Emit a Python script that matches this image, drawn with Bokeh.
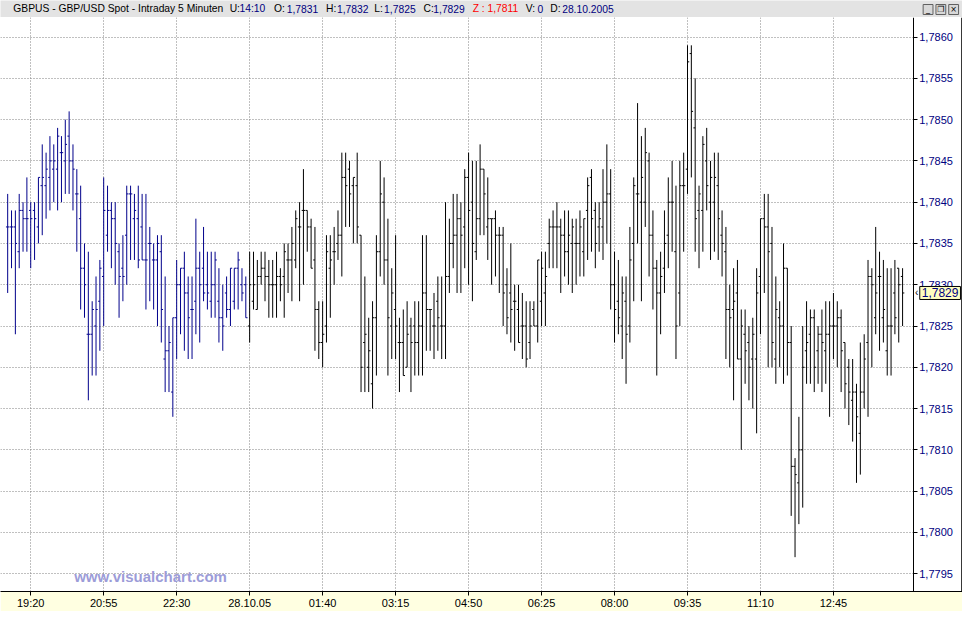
import datetime as dt
from bokeh.plotting import figure
from bokeh.models import (Range1d, FixedTicker, SingleIntervalTicker, Span,
                          CustomJSTickFormatter, Label, ColumnDataSource, BoxAnnotation)
from bokeh.layouts import column
from bokeh.embed import file_html
from bokeh.resources import INLINE
from bokeh.core.properties import value

# ---- data: GBP/USD 5-minute bars, prices in 1/10000 (17837 = 1,7837) ----
opens = [
    17837,17837,17837,17834,17839,17838,17839,17839,17837,17842,
    17842,17843,17844,17844,17846,17845,17848,17845,17841,17838,
    17832,17824,17824,17825,17828,17831,17836,17839,17838,17834,
    17832,17836,17841,17838,17838,17837,17833,17835,17833,17833,
    17834,17821,17822,17817,17826,17830,17832,17829,17827,17828,
    17832,17832,17830,17828,17830,17828,17826,17829,17827,17828,
    17832,17830,17830,17825,17828,17827,17831,17832,17831,17830,
    17830,17831,17831,17833,17833,17833,17837,17839,17839,17837,
    17833,17827,17823,17825,17832,17834,17835,17836,17843,17844,
    17842,17842,17836,17823,17820,17818,17826,17834,17840,17833,
    17825,17827,17823,17823,17820,17825,17825,17823,17825,17829,
    17827,17825,17828,17825,17825,17831,17835,17836,17838,17837,
    17843,17840,17834,17838,17844,17837,17838,17838,17836,17836,
    17830,17829,17828,17827,17825,17825,17823,17827,17825,17828,
    17829,17835,17837,17837,17837,17836,17834,17835,17835,17835,
    17834,17839,17843,17839,17837,17837,17840,17841,17830,17828,
    17825,17828,17825,17835,17841,17840,17840,17845,17836,17832,
    17829,17832,17836,17840,17834,17829,17842,17844,17858,17849,
    17839,17839,17845,17840,17840,17842,17836,17834,17827,17827,
    17829,17821,17824,17823,17821,17821,17831,17838,17837,17835,
    17821,17826,17825,17832,17823,17808,17806,17810,17822,17824,
    17826,17822,17824,17822,17824,17825,17825,17826,17823,17820,
    17816,17817,17812,17817,17823,17831,17826,17831,17826,17822,
    17825,17829,17832,17831]
highs = [
    17841,17839,17839,17841,17840,17843,17840,17840,17843,17847,
    17846,17848,17847,17849,17848,17850,17851,17847,17844,17842,
    17835,17834,17828,17831,17833,17843,17842,17840,17840,17835,
    17836,17842,17842,17841,17842,17841,17841,17837,17835,17836,
    17836,17831,17825,17826,17833,17832,17834,17831,17831,17838,
    17834,17837,17834,17834,17834,17832,17830,17831,17832,17832,
    17834,17832,17831,17834,17834,17833,17834,17834,17833,17833,
    17834,17832,17835,17835,17837,17839,17840,17844,17839,17838,
    17837,17828,17828,17836,17836,17837,17839,17846,17846,17845,
    17843,17846,17836,17831,17826,17828,17836,17845,17843,17838,
    17832,17836,17826,17827,17828,17826,17828,17828,17836,17836,
    17827,17829,17831,17831,17840,17838,17841,17841,17840,17844,
    17846,17845,17845,17847,17844,17843,17838,17839,17837,17837,
    17832,17835,17830,17830,17829,17828,17828,17828,17833,17834,
    17834,17838,17839,17840,17838,17839,17839,17838,17838,17839,
    17838,17843,17844,17840,17840,17844,17847,17844,17834,17833,
    17831,17831,17837,17843,17852,17848,17849,17846,17839,17833,
    17834,17839,17843,17845,17842,17845,17846,17859,17859,17855,
    17842,17848,17849,17845,17846,17846,17839,17837,17830,17832,
    17833,17827,17827,17825,17826,17832,17838,17841,17841,17837,
    17831,17828,17835,17832,17825,17809,17814,17825,17828,17827,
    17827,17825,17827,17828,17828,17829,17828,17827,17823,17821,
    17821,17818,17823,17824,17833,17832,17837,17834,17833,17832,
    17832,17833,17832,17832]
lows = [
    17829,17832,17824,17832,17834,17834,17832,17833,17835,17836,
    17838,17839,17840,17839,17840,17841,17841,17839,17834,17827,
    17826,17816,17819,17819,17822,17825,17834,17832,17830,17826,
    17828,17830,17833,17833,17832,17833,17827,17828,17827,17825,
    17823,17817,17817,17814,17821,17824,17822,17821,17821,17824,
    17823,17828,17827,17826,17826,17823,17822,17826,17825,17827,
    17827,17828,17826,17823,17827,17827,17830,17828,17826,17826,
    17826,17828,17826,17829,17828,17832,17828,17830,17834,17832,
    17822,17821,17820,17823,17826,17830,17833,17831,17837,17837,
    17835,17835,17817,17817,17817,17815,17819,17831,17830,17819,
    17821,17821,17817,17819,17820,17817,17819,17819,17819,17822,
    17822,17821,17822,17821,17821,17829,17832,17829,17829,17832,
    17830,17828,17833,17836,17836,17833,17830,17831,17829,17825,
    17824,17823,17822,17823,17821,17820,17821,17825,17823,17825,
    17825,17832,17832,17832,17829,17831,17830,17829,17830,17831,
    17831,17833,17834,17832,17834,17833,17835,17827,17823,17824,
    17821,17818,17823,17828,17835,17828,17837,17831,17827,17819,
    17824,17829,17832,17834,17821,17825,17834,17841,17843,17834,
    17832,17834,17839,17833,17834,17833,17831,17821,17820,17816,
    17821,17810,17818,17816,17815,17812,17824,17829,17820,17820,
    17818,17820,17818,17819,17802,17797,17801,17803,17818,17818,
    17817,17818,17817,17818,17814,17821,17820,17817,17815,17813,
    17811,17806,17807,17815,17814,17820,17824,17822,17823,17819,
    17819,17824,17823,17825]
closes = [
    17837,17837,17835,17839,17838,17838,17838,17838,17843,17843,
    17844,17845,17845,17848,17846,17847,17845,17844,17841,17832,
    17830,17824,17827,17827,17832,17839,17839,17838,17835,17831,
    17831,17841,17841,17839,17833,17833,17833,17835,17833,17835,
    17827,17822,17823,17826,17830,17832,17829,17826,17827,17832,
    17830,17829,17829,17830,17833,17826,17825,17827,17832,17832,
    17833,17829,17826,17830,17830,17831,17832,17831,17830,17830,
    17831,17830,17834,17833,17835,17838,17837,17839,17837,17832,
    17827,17823,17824,17834,17833,17834,17836,17843,17842,17841,
    17843,17837,17820,17824,17822,17826,17834,17841,17833,17826,
    17829,17825,17823,17819,17824,17823,17823,17825,17829,17827,
    17827,17825,17826,17825,17831,17835,17836,17838,17836,17843,
    17839,17835,17838,17844,17841,17838,17838,17836,17836,17829,
    17826,17827,17828,17823,17825,17821,17825,17825,17833,17832,
    17831,17837,17837,17837,17836,17834,17836,17837,17835,17837,
    17838,17842,17838,17835,17838,17840,17841,17830,17827,17826,
    17829,17824,17833,17842,17841,17843,17846,17836,17832,17829,
    17831,17835,17840,17840,17825,17842,17842,17857,17851,17838,
    17841,17847,17842,17843,17843,17838,17835,17827,17826,17828,
    17821,17825,17822,17820,17824,17829,17838,17837,17834,17823,
    17827,17825,17832,17823,17808,17807,17810,17820,17823,17826,
    17820,17824,17823,17824,17825,17825,17826,17822,17818,17817,
    17817,17814,17817,17821,17831,17830,17829,17831,17827,17825,
    17825,17826,17830,17829]

header_title = "GBPUS - GBP/USD Spot - Intraday 5 Minuten"
header_time = "14:10"
header_z = "1,7811"
header_v = "0"
header_date = "28.10.2005"
watermark = "www.visualchart.com"

# ---- helpers ----
def fmt(v):
    return ("%.4f" % (v / 10000.0)).replace(".", ",")

n = len(opens)
start = dt.datetime(2005, 10, 27, 18, 50)
times = [start + dt.timedelta(minutes=5 * i) for i in range(n)]
day_break = dt.datetime(2005, 10, 28, 0, 0)
BLUE = "#00008b"
NAVY = "#000080"
colors = [BLUE if t <= day_break else "black" for t in times]
idx = list(range(n))
TW = 0.45
src = ColumnDataSource(dict(
    x=idx, o=opens, h=highs, l=lows, c=closes, color=colors,
    xl=[i - TW for i in idx], xr=[i + TW for i in idx]))

# tick every 95 minutes (19 bars) starting 19:20
tick_idx = list(range(6, n, 19))
overrides = {}
prev_date = None
for j in tick_idx:
    t = times[j]
    if prev_date is not None and t.date() != prev_date:
        overrides[j] = t.strftime("%d.%m.%y")
    else:
        overrides[j] = t.strftime("%H:%M")
    prev_date = t.date()

FONT = "Liberation Sans"
W = 962
HEAD_H = 17
MAIN_H = 594
YELLOW = "#ffffe1"

# x geometry (bar slots): plot area ends at AXIS_X, whole canvas to X_END
X_START = -1.87
AXIS_X = 235.77
X_END = 248.6

# ---- main chart ----
p = figure(width=W, height=MAIN_H,
           x_range=Range1d(X_START, X_END), y_range=Range1d(17792.84, 17862.37),
           y_axis_location="right", output_backend="svg", toolbar_location=None,
           min_border_left=0, min_border_right=0, min_border_top=0,
           min_border_bottom=18, background_fill_color="white",
           border_fill_color=YELLOW, outline_line_color=None)

for g in (p.xgrid, p.ygrid):
    g.grid_line_color = "#808080"
    g.grid_line_dash = "1 2"
    g.grid_line_width = 1
p.ygrid.ticker = SingleIntervalTicker(interval=5, num_minor_ticks=0)

# white axis column that hides the grid right of the price axis
p.add_layout(BoxAnnotation(left=AXIS_X, fill_color="white", fill_alpha=1.0,
                           line_color=None, level="underlay"))
# right window edge
p.add_layout(Span(location=X_END - 0.2, dimension="height", line_color="black",
                  line_width=1))

p.segment(x0="x", y0="l", x1="x", y1="h", line_color="color", line_width=1, source=src)
p.segment(x0="xl", y0="o", x1="x", y1="o", line_color="color", line_width=1, source=src)
p.segment(x0="x", y0="c", x1="xr", y1="c", line_color="color", line_width=1, source=src)

# y axis (right, drawn at the right edge of the bar area)
yax = p.yaxis[0]
yax.fixed_location = AXIS_X
yax.ticker = SingleIntervalTicker(interval=5, num_minor_ticks=0)
yax.formatter = CustomJSTickFormatter(code="return (tick/10000).toFixed(4).replace('.', ',');")
yax.axis_line_color = "black"
yax.major_tick_line_color = "black"
yax.major_tick_out = 4
yax.major_tick_in = 0
yax.minor_tick_line_color = None
yax.major_label_text_color = NAVY
yax.major_label_text_font = FONT
yax.major_label_text_font_size = "11px"
yax.major_label_standoff = 2

# x axis (bottom)
p.xaxis.ticker = FixedTicker(ticks=tick_idx)
p.xaxis.major_label_overrides = overrides
p.xaxis.axis_line_color = "black"
p.xaxis.major_tick_line_color = "black"
p.xaxis.major_tick_out = 4
p.xaxis.major_tick_in = 0
p.xaxis.minor_tick_line_color = None
p.xaxis.major_label_text_color = "black"
p.xaxis.major_label_text_font = FONT
p.xaxis.major_label_text_font_size = "11px"
p.xaxis.major_label_text_align = "left"
p.xaxis.major_label_standoff = 1

yr0, yr1 = p.y_range.start, p.y_range.end
p.add_layout(Label(x=17.3, y=yr0 + (yr1 - yr0) * 0.027, text=watermark,
                   text_color="#9c9cd8", text_font=FONT, text_font_size="15px",
                   text_font_style="bold", text_baseline="middle"))

# current price marker on the axis
p.add_layout(Label(x=AXIS_X + 0.45, y=closes[-1], text="\u2039",
                   text_color="black", text_font=FONT, text_font_size="10px",
                   text_baseline="middle"))
p.add_layout(Label(x=AXIS_X + 1.7, y=closes[-1], text=fmt(closes[-1]),
                   text_color=NAVY, text_font=FONT, text_font_size="12px",
                   text_baseline="middle", background_fill_color="#ffffc0",
                   border_line_color="black", padding=2))

# ---- header bar ----
h = figure(width=W, height=HEAD_H, x_range=Range1d(0, 978), y_range=Range1d(17, 0),
           output_backend="svg", toolbar_location=None, min_border=0,
           background_fill_color="#e3e3e3", border_fill_color="#e3e3e3",
           outline_line_color=None)
h.axis.visible = False
h.grid.visible = False

seg_x = [13, 233, 243, 278, 291, 331, 342, 380, 390, 430, 440, 480, 534, 546, 559, 571]
seg_t = [header_title, "U:", header_time, "O:", fmt(opens[-1]), "H:", fmt(highs[-1]),
         "L:", fmt(lows[-1]), "C:", fmt(closes[-1]), "Z : " + header_z,
         "V:", header_v, "D:", header_date]
seg_c = ["black", "black", NAVY, "black", NAVY, "black", NAVY, "black", NAVY,
         "black", NAVY, "red", "black", NAVY, "black", NAVY]
hs = ColumnDataSource(dict(x=seg_x, y=[8] * len(seg_x), t=seg_t, c=seg_c))
h.text(x="x", y="y", text="t", text_color="c", source=hs, text_font=value(FONT),
       text_font_size="10.3px", text_baseline="middle", text_align="left")

# window buttons
bx = [938, 951, 964]
h.quad(left=bx, right=[b + 10 for b in bx], top=[4] * 3, bottom=[14] * 3,
       fill_color="#d8d8d8", line_color="#606060", line_width=1)
h.text(x=[b + 5 for b in bx], y=[9] * 3, text=["_", "\u2750", "\u00d7"],
       text_font=value("DejaVu Sans"), text_font_size="8px", text_align="center",
       text_baseline="middle", text_color="black")

layout = column(h, p, spacing=0)
open("out.html", "w").write(file_html(layout, INLINE))
